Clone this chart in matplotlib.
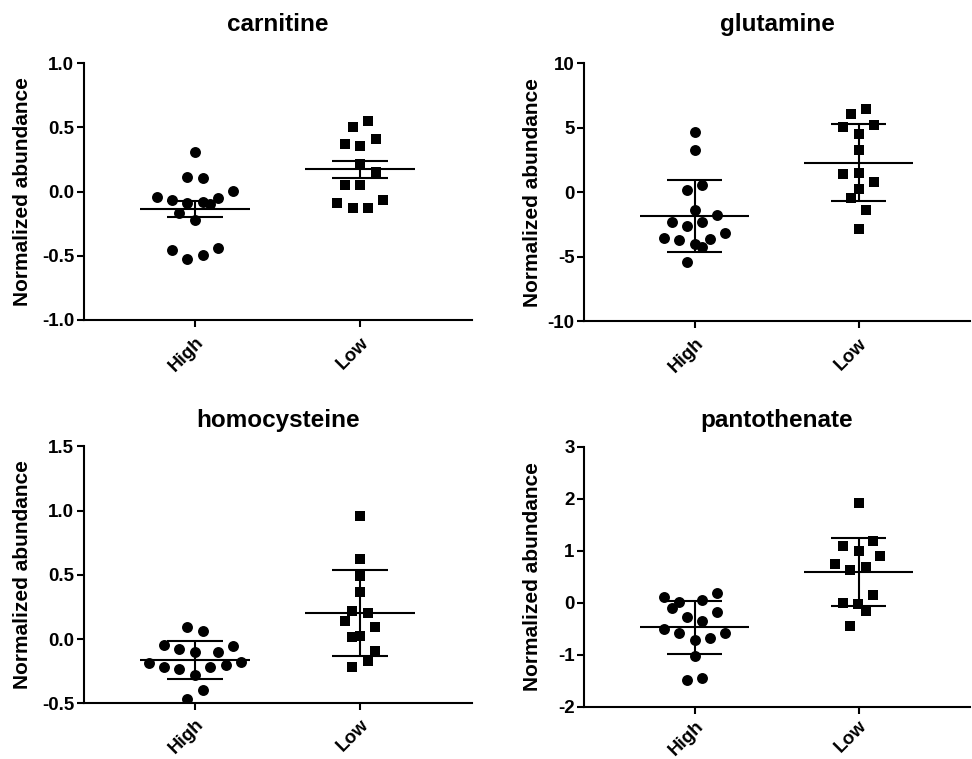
import matplotlib
matplotlib.use("Agg")
import matplotlib.pyplot as plt
import matplotlib.transforms as mtransforms
import numpy as np

# ---------------- data ----------------
groups = ["High", "Low"]
titles = ["carnitine", "glutamine", "homocysteine", "pantothenate"]
ylabel = "Normalized abundance"

carnitine_high = [0.31, 0.115, 0.109, -0.039, -0.068, -0.086, -0.078, -0.047, 0.008,
                  -0.099, -0.164, -0.221, -0.456, -0.523, -0.495, -0.4375]
carnitine_high_jit = [0, -0.046, 0.046, -0.232, -0.141, -0.046, 0.046, 0.139, 0.232,
                      0.091, -0.095, 0, -0.141, -0.046, 0.046, 0.139]
carnitine_low = [0.552, 0.5, 0.375, 0.409, 0.352, 0.219, 0.156, 0.049, 0.049,
                 -0.086, -0.130, -0.130, -0.068]
carnitine_low_jit = [0.046, -0.044, -0.091, 0.095, 0, 0, 0.095, -0.091, 0,
                     -0.141, -0.044, 0.046, 0.141]

glutamine_high = [4.675, 3.30, 0.13, 0.57, -1.40, -1.79, -2.29, -2.60, -2.31,
                  -3.14, -3.53, -3.74, -3.66, -4.05, -4.29, -5.45]
glutamine_high_jit = [0, 0, -0.046, 0.046, 0, 0.139, -0.139, -0.046, 0.046,
                      0.186, -0.186, -0.093, 0.093, 0, 0.046, -0.046]
glutamine_low = [6.42, 6.10, 5.25, 5.04, 4.55, 3.25, 1.40, 1.48, 0.78, 0.23,
                 -0.42, -1.38, -2.86]
glutamine_low_jit = [0.046, -0.046, 0.091, -0.093, 0, 0, -0.093, 0, 0.091, 0,
                     -0.046, 0.046, 0]

homocysteine_high = [0.091, 0.060, -0.044, -0.075, -0.104, -0.104, -0.052, -0.187,
                     -0.220, -0.233, -0.220, -0.199, -0.179, -0.277, -0.399, -0.466]
homocysteine_high_jit = [-0.046, 0.046, -0.188, -0.095, 0, 0.139, 0.232, -0.281,
                         -0.188, -0.095, 0.091, 0.186, 0.279, 0, 0.046, -0.046]
homocysteine_low = [0.959, 0.627, 0.495, 0.363, 0.220, 0.202, 0.142, 0.091, 0.016,
                    0.026, -0.093, -0.168, -0.220]
homocysteine_low_jit = [0, 0, 0, 0, -0.046, 0.046, -0.093, 0.093, -0.046, 0,
                        0.093, 0.046, -0.046]

pantothenate_high = [0.103, 0.006, -0.109, 0.051, 0.192, -0.288, -0.353, -0.186,
                     -0.506, -0.577, -0.718, -0.692, -0.577, -1.026, -1.487, -1.455]
pantothenate_high_jit = [-0.186, -0.093, -0.139, 0.046, 0.139, -0.046, 0.046, 0.139,
                         -0.186, -0.093, 0, 0.093, 0.186, 0, -0.046, 0.046]
pantothenate_low = [1.923, 1.186, 1.077, 1.0, 0.897, 0.744, 0.628, 0.692, 0.147,
                    -0.013, -0.032, -0.173, -0.449]
pantothenate_low_jit = [0, 0.087, -0.097, 0, 0.133, -0.143, -0.05, 0.042, 0.087,
                        -0.097, -0.004, 0.042, -0.05]

# error bar type per panel (mean +/- SEM or SD)
error_type = ["sem", "sd", "sd", "sd"]

carnitine_ticks = [-1.0, -0.5, 0.0, 0.5, 1.0]
carnitine_ticklabels = ["-1.0", "-0.5", "0.0", "0.5", "1.0"]
glutamine_ticks = [-10, -5, 0, 5, 10]
glutamine_ticklabels = ["-10", "-5", "0", "5", "10"]
homocysteine_ticks = [-0.5, 0.0, 0.5, 1.0, 1.5]
homocysteine_ticklabels = ["-0.5", "0.0", "0.5", "1.0", "1.5"]
pantothenate_ticks = [-2, -1, 0, 1, 2, 3]
pantothenate_ticklabels = ["-2", "-1", "0", "1", "2", "3"]

panels = [
    (carnitine_high, carnitine_high_jit, carnitine_low, carnitine_low_jit,
     carnitine_ticks, carnitine_ticklabels),
    (glutamine_high, glutamine_high_jit, glutamine_low, glutamine_low_jit,
     glutamine_ticks, glutamine_ticklabels),
    (homocysteine_high, homocysteine_high_jit, homocysteine_low, homocysteine_low_jit,
     homocysteine_ticks, homocysteine_ticklabels),
    (pantothenate_high, pantothenate_high_jit, pantothenate_low, pantothenate_low_jit,
     pantothenate_ticks, pantothenate_ticklabels),
]

# ---------------- style / layout ----------------
plt.rcParams["font.family"] = ["Liberation Sans", "DejaVu Sans"]
plt.rcParams["font.weight"] = "bold"

W, H = 972, 759
fig = plt.figure(figsize=(W / 100, H / 100), dpi=100)

# axes boxes in pixels: left, top, right, bottom
boxes = [(84, 63.3, 472, 320), (584.3, 63.3, 970, 321),
         (84, 446.5, 472, 703.3), (584.3, 446.5, 970, 706.5)]
title_pads = [23.5, 23.5, 14.3, 14.3]
label_offset_px = [-52.3, -42.6, -52.3, -42.6]
xlabel_pads = [5, 5, 4, 3]

LW = 1.5
markers = ["o", "s"]
msizes = [62, 52]

for i, (box, data) in enumerate(zip(boxes, panels)):
    l, t, r, b = box
    ax = fig.add_axes([l / W, 1 - b / H, (r - l) / W, (b - t) / H])
    hi, hij, lo, loj, yt, ytl = data
    for g, (vals, jit) in enumerate([(hi, hij), (lo, loj)]):
        vals = np.asarray(vals, float)
        x = g + np.asarray(jit, float)
        ax.scatter(x, vals, s=msizes[g], marker=markers[g], color="black",
                   linewidths=0, zorder=2)
        m = vals.mean()
        sd = vals.std(ddof=1)
        e = sd / np.sqrt(len(vals)) if error_type[i] == "sem" else sd
        ax.hlines(m, g - 0.333, g + 0.333, color="black", lw=LW, zorder=3)
        ax.hlines([m - e, m + e], g - 0.167, g + 0.167, color="black", lw=LW, zorder=3)
        ax.vlines(g, m - e, m + e, color="black", lw=LW, zorder=3)

    ax.set_xlim(-0.673, 1.679)
    ax.set_ylim(yt[0], yt[-1])
    ax.set_yticks(yt)
    ax.set_yticklabels(ytl, fontsize=13.5, fontweight="bold")
    ax.set_xticks([0, 1])
    ax.set_xticklabels(groups, fontsize=13.5, fontweight="bold", rotation=45,
                       ha="right", va="top", rotation_mode="anchor")
    shift = mtransforms.ScaledTranslation(-2 / 100, 0, fig.dpi_scale_trans)
    for lab in ax.get_xticklabels():
        lab.set_transform(lab.get_transform() + shift)
    for s in ["top", "right"]:
        ax.spines[s].set_visible(False)
    for s in ["left", "bottom"]:
        ax.spines[s].set_linewidth(LW)
    ax.tick_params(axis="both", direction="out", length=5, width=LW, colors="black")
    ax.tick_params(axis="y", pad=2)
    ax.tick_params(axis="x", pad=xlabel_pads[i])
    ax.set_title(titles[i], fontsize=17.5, fontweight="bold", pad=title_pads[i])
    ax.set_ylabel(ylabel, fontsize=15, fontweight="bold")
    ax.yaxis.set_label_coords(label_offset_px[i] / (r - l), 0.5)
    ax.patch.set_alpha(0)

fig.savefig("out.png", dpi=100)
